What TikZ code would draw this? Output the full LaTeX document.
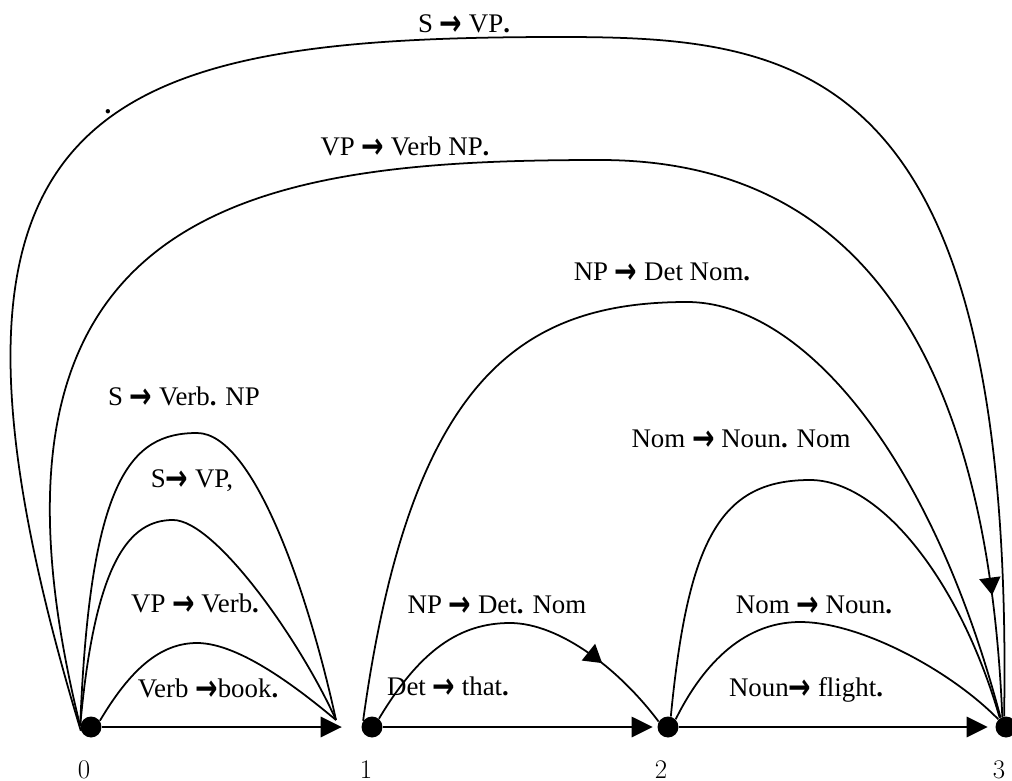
\documentclass[tikz,border=0pt]{standalone}
\usepackage{fontspec}
\usepackage{graphicx}
\newfontfamily\tnr{Liberation Serif}
\newfontfamily\arrfont{DejaVu Sans}
\usetikzlibrary{arrows.meta,decorations.markings}
\newcommand\rarr{\raisebox{-0.12em}{\scalebox{1}[1.35]{\arrfont\bfseries →}}}
\newcommand\bdot{{\bfseries .}}
\tikzset{
 dot/.style={circle,fill=black,inner sep=0pt,minimum size=0.42cm},
 lbl/.style={font=\tnr\fontsize{15.3}{18}\selectfont, inner sep=0pt, anchor=base},
 num/.style={font=\fontsize{15.3}{18}\selectfont, inner sep=0pt, anchor=base},
 arc/.style={line width=1pt},
 straight/.style={line width=1.3pt,-{Triangle[length=12pt,width=11.5pt]}},
 midarrow/.style={postaction={decorate},decoration={markings,mark=at position #1 with {\arrow{Triangle[length=10pt,width=12pt]}}}}
}
\begin{document}
\begin{tikzpicture}[x=0.02cm,y=-0.02cm]
\useasboundingbox (0,0) rectangle (1012,781);
% vertices
\node[dot] (n0) at (91,727) {};
\node[dot] (n1) at (372,727) {};
\node[dot] (n2) at (668,727) {};
\node[dot] (n3) at (1006,727) {};
\coordinate (e01) at (336,720);
% position numbers
\node[num] (k0) at (84,778) {0};
\node[num] (k1) at (366,778) {1};
\node[num] (k2) at (661,778) {2};
\node[num] (k3) at (999,778) {3};
% straight edges
\draw[straight, shorten >=11pt] (n0) -- (n1);
\draw[straight, shorten >=2.5pt] (n1) -- (n2);
\draw[straight, shorten >=4.2pt] (n2) -- (n3);
% arcs
\draw[arc] (n0.200) .. controls (-110,100) and (100,37) .. (560,37) .. controls (800,37) and (1015,60) .. (n3.100);
\draw[arc, midarrow=0.93] (n0.175) .. controls (-50,200) and (260,160) .. (600,160) .. controls (820,160) and (985,300) .. (n3.110);
\draw[arc] (n1.145) .. controls (410,380) and (520,302) .. (687,302) .. controls (800,302) and (930,450) .. (n3.120);
\draw[arc] (n2.75) .. controls (688,540) and (720,480) .. (810,480) .. controls (880,480) and (960,580) .. (n3.125);
\draw[arc] (n2.45) .. controls (700,670) and (740,622) .. (800,622) .. controls (860,622) and (950,670) .. (n3.135);
\draw[arc, midarrow=0.77] (n1.50) .. controls (420,650) and (460,623) .. (510,623) .. controls (560,623) and (620,670) .. (n2.150);
\draw[arc] (n0.175) .. controls (90,480) and (130,433) .. (197,433) .. controls (255,433) and (310,600) .. (e01);
\draw[arc] (n0.175) .. controls (95,560) and (130,520) .. (173,520) .. controls (215,520) and (300,640) .. (e01);
\draw[arc] (n0.35) .. controls (130,670) and (160,643) .. (197,643) .. controls (240,643) and (300,690) .. (e01);
% labels
\node[lbl] (lA) at (464,32) {S \rarr{} VP\bdot};
\node[lbl] (lstray) at (108,113) {\bdot};
\node[lbl] (lB) at (405,155) {VP \rarr{} Verb NP\bdot};
\node[lbl] (lC) at (662,280) {NP \rarr{} Det Nom\bdot};
\node[lbl] (lD) at (741,447) {Nom \rarr{} Noun\bdot{} Nom};
\node[lbl] (lG) at (184,405) {S \rarr{} Verb\bdot{} NP};
\node[lbl] (lH) at (192,487) {S\rarr{} VP,};
\node[lbl] (lI) at (195,612) {VP \rarr{} Verb\bdot};
\node[lbl] (lJ) at (208,697) {Verb \rarr book\bdot};
\node[lbl] (lF) at (497,613) {NP \rarr{} Det\bdot{} Nom};
\node[lbl] (lK) at (448,695) {Det \rarr{} that\bdot};
\node[lbl] (lE) at (814,613) {Nom \rarr{} Noun\bdot};
\node[lbl] (lL) at (806,696) {Noun\rarr{} flight\bdot};
\end{tikzpicture}
\end{document}
